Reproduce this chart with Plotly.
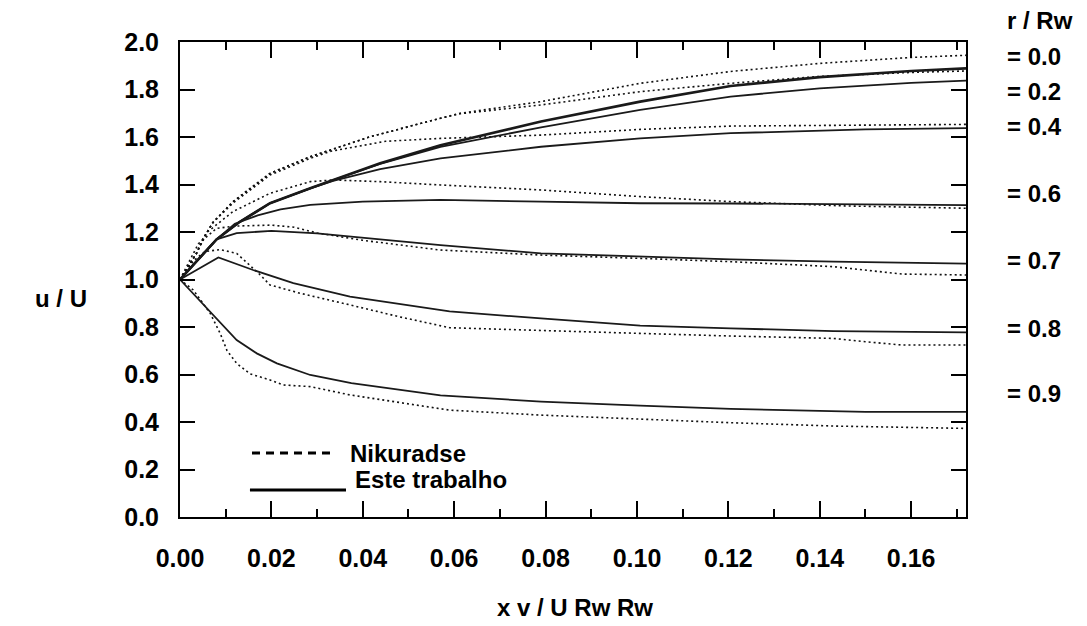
import plotly.graph_objects as go

# ---------------- data ----------------
# Este trabalho (solid)
s00_x = [0, 0.008, 0.0131, 0.0197, 0.0285, 0.0335, 0.0438, 0.057, 0.079, 0.1007, 0.1205, 0.14, 0.16, 0.172]
s00_y = [1.0, 1.169, 1.243, 1.321, 1.384, 1.419, 1.489, 1.565, 1.665, 1.749, 1.815, 1.852, 1.878, 1.889]
s02_x = [0, 0.008, 0.0131, 0.0197, 0.0285, 0.0335, 0.0438, 0.057, 0.079, 0.1007, 0.1205, 0.14, 0.16, 0.172]
s02_y = [1.0, 1.169, 1.243, 1.321, 1.384, 1.419, 1.487, 1.558, 1.641, 1.714, 1.77, 1.805, 1.828, 1.837]
s04_x = [0, 0.008, 0.0131, 0.0197, 0.0285, 0.0335, 0.0438, 0.057, 0.079, 0.1007, 0.1205, 0.15, 0.172]
s04_y = [1.0, 1.169, 1.243, 1.321, 1.384, 1.415, 1.465, 1.51, 1.559, 1.594, 1.616, 1.632, 1.637]
s06_x = [0, 0.008, 0.012, 0.017, 0.022, 0.0285, 0.04, 0.057, 0.079, 0.1007, 0.1205, 0.145, 0.172]
s06_y = [1.0, 1.169, 1.235, 1.27, 1.295, 1.314, 1.328, 1.335, 1.328, 1.321, 1.32, 1.316, 1.313]
s07_x = [0, 0.008, 0.0124, 0.02, 0.030, 0.04, 0.057, 0.079, 0.1007, 0.1205, 0.143, 0.172]
s07_y = [1.0, 1.169, 1.195, 1.205, 1.194, 1.175, 1.145, 1.11, 1.096, 1.085, 1.075, 1.067]
s08_x = [0, 0.0084, 0.016, 0.0248, 0.0372, 0.059, 0.079, 0.1007, 0.1205, 0.143, 0.172]
s08_y = [1.0, 1.093, 1.04, 0.985, 0.928, 0.866, 0.836, 0.806, 0.794, 0.783, 0.777]
s09_x = [0, 0.0124, 0.0168, 0.0212, 0.0285, 0.0375, 0.057, 0.079, 0.1007, 0.1205, 0.15, 0.172]
s09_y = [1.0, 0.745, 0.689, 0.647, 0.598, 0.564, 0.512, 0.486, 0.469, 0.455, 0.443, 0.443]

# Nikuradse (dotted)
n00_x = [0, 0.0036, 0.005, 0.0072, 0.0116, 0.0197, 0.0285, 0.037, 0.0416, 0.057, 0.0613, 0.079, 0.1007, 0.1205, 0.14, 0.16, 0.172]
n00_y = [1.0, 1.11, 1.17, 1.24, 1.328, 1.447, 1.517, 1.573, 1.601, 1.679, 1.70, 1.749, 1.826, 1.876, 1.91, 1.935, 1.944]
n02_x = [0, 0.0036, 0.005, 0.0072, 0.0116, 0.0197, 0.0285, 0.037, 0.0416, 0.057, 0.0613, 0.079, 0.1007, 0.1205, 0.14, 0.16, 0.172]
n02_y = [1.0, 1.11, 1.17, 1.24, 1.328, 1.447, 1.517, 1.573, 1.601, 1.679, 1.698, 1.735, 1.791, 1.826, 1.855, 1.872, 1.878]
n04_x = [0, 0.0036, 0.005, 0.0072, 0.0116, 0.0197, 0.0285, 0.033, 0.045, 0.057, 0.079, 0.1007, 0.1205, 0.15, 0.172]
n04_y = [1.0, 1.11, 1.17, 1.24, 1.322, 1.44, 1.51, 1.54, 1.582, 1.594, 1.608, 1.632, 1.646, 1.651, 1.653]
n06_x = [0, 0.0036, 0.006, 0.0116, 0.0197, 0.0285, 0.0335, 0.0438, 0.057, 0.079, 0.1007, 0.1205, 0.145, 0.172]
n06_y = [1.0, 1.11, 1.2, 1.286, 1.363, 1.412, 1.419, 1.412, 1.398, 1.377, 1.349, 1.328, 1.31, 1.30]
n07_x = [0, 0.004, 0.008, 0.012, 0.02, 0.025, 0.03, 0.04, 0.057, 0.079, 0.1007, 0.1205, 0.143, 0.15, 0.158, 0.172]
n07_y = [1.0, 1.15, 1.215, 1.225, 1.229, 1.22, 1.196, 1.165, 1.124, 1.103, 1.089, 1.075, 1.054, 1.04, 1.023, 1.019]
n08_x = [0, 0.003, 0.0055, 0.0088, 0.0124, 0.0172, 0.0197, 0.0263, 0.0372, 0.048, 0.059, 0.079, 0.1007, 0.1205, 0.143, 0.15, 0.158, 0.172]
n08_y = [1.0, 1.08, 1.118, 1.126, 1.11, 1.026, 0.977, 0.942, 0.893, 0.843, 0.797, 0.787, 0.773, 0.762, 0.752, 0.738, 0.724, 0.724]
n09_x = [0, 0.0029, 0.0066, 0.0088, 0.0103, 0.0124, 0.0153, 0.0197, 0.0226, 0.0285, 0.0372, 0.059, 0.079, 0.1007, 0.1205, 0.143, 0.172]
n09_y = [1.0, 0.956, 0.858, 0.773, 0.70, 0.647, 0.603, 0.577, 0.556, 0.549, 0.514, 0.45, 0.429, 0.411, 0.397, 0.383, 0.373]

r_labels = ["= 0.0", "= 0.2", "= 0.4", "= 0.6", "= 0.7", "= 0.8", "= 0.9"]
r_label_pos = [0.9685, 0.8948, 0.8212, 0.6817, 0.5407, 0.3977, 0.2609]

x_ticks = [0.00, 0.02, 0.04, 0.06, 0.08, 0.10, 0.12, 0.14, 0.16]
y_ticks = [0.0, 0.2, 0.4, 0.6, 0.8, 1.0, 1.2, 1.4, 1.6, 1.8, 2.0]

FONT = "Liberation Sans, Arial, sans-serif"
INK = "#111111"

fig = go.Figure()

solids = [(s00_x, s00_y, 2.6), (s02_x, s02_y, 1.8), (s04_x, s04_y, 1.8), (s06_x, s06_y, 1.8),
          (s07_x, s07_y, 1.8), (s08_x, s08_y, 1.8), (s09_x, s09_y, 1.8)]
dots = [(n00_x, n00_y), (n02_x, n02_y), (n04_x, n04_y), (n06_x, n06_y),
        (n07_x, n07_y), (n08_x, n08_y), (n09_x, n09_y)]

for x, y in dots:
    fig.add_trace(go.Scatter(x=x, y=y, mode="lines", showlegend=False,
                             line=dict(color=INK, width=1.6, dash="2px,3px")))
for x, y, w in solids:
    fig.add_trace(go.Scatter(x=x, y=y, mode="lines", showlegend=False,
                             line=dict(color="#1a1a1a", width=w)))

axis_common = dict(showgrid=False, zeroline=False, showline=True, linewidth=2,
                   linecolor="black", mirror="ticks", ticks="inside", tickwidth=2,
                   tickcolor="black",
                   tickfont=dict(family=FONT, size=25, color="black", weight="bold"))

fig.update_xaxes(range=[0, 0.172], tickvals=x_ticks, tickformat=".2f", ticklen=16,
                 ticklabelstandoff=18,
                 minor=dict(dtick=0.01, tick0=0, ticks="inside", ticklen=8, tickwidth=1.5,
                            tickcolor="black", showgrid=False),
                 **axis_common)
fig.update_yaxes(range=[0, 2.0], tickvals=y_ticks, tickformat=".1f", ticklen=15,
                 ticklabelstandoff=14, **axis_common)

annots = []
def txt(x, y, s, xanchor="left", size=24):
    annots.append(dict(x=x, y=y, xref="paper", yref="paper", text="<b>" + s + "</b>",
                       showarrow=False, xanchor=xanchor, yanchor="middle",
                       font=dict(family=FONT, size=size, color="black")))

txt(1.0496, 1.0457, "r / Rw")
for lab, yp in zip(r_labels, r_label_pos):
    txt(1.0496, yp, lab)
txt(-0.152, 0.4608, "u / U", xanchor="center")
txt(0.503, -0.19, "x v / U Rw Rw", xanchor="center")
txt(0.2138, 0.1347, "Nikuradse")
txt(0.2201, 0.0779, "Este trabalho")

shapes = [
    dict(type="line", xref="paper", yref="paper", x0=0.0916, x1=0.1947, y0=0.1347, y1=0.1347,
         line=dict(color="black", width=3, dash="8px,6px")),
    dict(type="line", xref="paper", yref="paper", x0=0.089, x1=0.2112, y0=0.0568, y1=0.0568,
         line=dict(color="black", width=3)),
]

fig.update_layout(width=1087, height=626, autosize=False,
                  margin=dict(l=180, r=121, t=42, b=109),
                  paper_bgcolor="white", plot_bgcolor="white",
                  annotations=annots, shapes=shapes, showlegend=False)

fig.write_html("out.html")
